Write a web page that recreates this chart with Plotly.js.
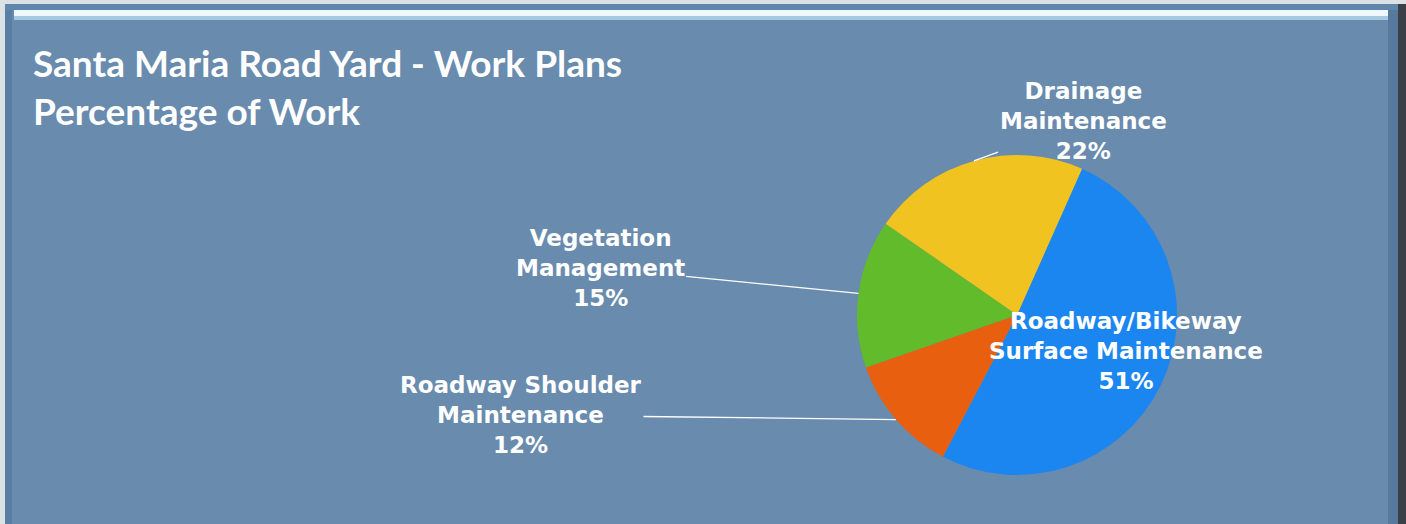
<!DOCTYPE html>
<html><head><meta charset="utf-8">
<script src="https://cdn.plot.ly/plotly-3.0.1.min.js"></script>
<style>html,body{margin:0;padding:0;background:#688BAE;overflow:hidden}#chart{width:1406px;height:524px}</style>
</head><body><div id="chart"></div>
<script>
// ---- data ----
const categories = ['Roadway/Bikeway<br>Surface Maintenance', 'Roadway Shoulder<br>Maintenance', 'Vegetation<br>Management', 'Drainage<br>Maintenance'];
const percentages = [51, 12, 15, 22];
const sliceColors = ['#1C86F0', '#E8600F', '#62BB2A', '#F0C321'];
const chartTitle = 'Santa Maria Road Yard - Work Plans<br>Percentage of Work';

// ---- layout constants ----
const W = 1406, H = 524;
const cx = 1017, cy = 315, R = 160;
const rotation = 24;
const labelPos = [[1126, 351], [521, 415], [600, 268], [1083, 121]];
const hasLeader = [false, true, true, true];

const total = percentages.reduce((a, b) => a + b, 0);
let acc = rotation;
const annotations = [];
percentages.forEach((v, i) => {
  const span = v / total * 360;
  const mid = (acc + span / 2) * Math.PI / 180;
  acc += span;
  const hx = cx + R * Math.sin(mid), hy = cy - R * Math.cos(mid);
  const text = categories[i] + '<br>' + Math.round(v / total * 100) + '%';
  const font = {family: '"DejaVu Sans", Arial, sans-serif', size: 23, color: '#FFFFFF', weight: 'bold'};
  if (hasLeader[i]) {
    annotations.push({
      xref: 'paper', yref: 'paper', x: hx / W, y: 1 - hy / H,
      ax: labelPos[i][0] - hx, ay: labelPos[i][1] - hy, axref: 'pixel', ayref: 'pixel',
      showarrow: true, arrowhead: 0, arrowwidth: 1.3, arrowcolor: '#FFFFFF', standoff: 0,
      text: text, font: font, align: 'center'
    });
  } else {
    annotations.push({
      xref: 'paper', yref: 'paper', x: labelPos[i][0] / W, y: 1 - labelPos[i][1] / H,
      xanchor: 'center', yanchor: 'middle', showarrow: false,
      text: text, font: font, align: 'center'
    });
  }
});

const px = (a) => a / W, py = (b) => 1 - b / H;
const rectPx = (x0, y0, x1, y1, color) => ({type: 'rect', xref: 'paper', yref: 'paper', x0: px(x0), x1: px(x1), y0: py(y1), y1: py(y0), fillcolor: color, line: {width: 0}, layer: 'below'});
const shapes = [
  rectPx(0, 0, W, 4, '#DCE1E6'),
  rectPx(0, 0, 5, H, '#DCE1E6'),
  rectPx(5, 4, W - 8, 10, '#5F86AC'),
  rectPx(14, 10, W - 16, 16, '#EEF8FD'),
  rectPx(14, 16, W - 16, 20, '#A6C8E0'),
  rectPx(5, 10, 12, H, '#5A7FA4'),
  rectPx(W - 18, 10, W - 8, H, '#56799D'),
  rectPx(W - 8, 4, W, H, '#3B4048')
];

const trace = {
  type: 'pie',
  labels: categories,
  values: percentages,
  marker: {colors: sliceColors, line: {width: 0}},
  sort: false,
  direction: 'clockwise',
  rotation: rotation,
  textinfo: 'none',
  hoverinfo: 'skip',
  showlegend: false,
  domain: {x: [px(cx - R), px(cx + R)], y: [py(cy + R), py(cy - R)]}
};

const layout = {
  width: W, height: H,
  margin: {l: 0, r: 0, t: 0, b: 0},
  paper_bgcolor: '#688BAE',
  plot_bgcolor: '#688BAE',
  showlegend: false,
  title: {
    text: chartTitle,
    x: 33 / W, xanchor: 'left', xref: 'paper',
    y: 1 - 77 / H, yanchor: 'top', yref: 'paper',
    font: {family: 'Lato, sans-serif', size: 37, color: '#FFFFFF', weight: 'bold'}
  },
  annotations: annotations,
  shapes: shapes
};

Plotly.newPlot('chart', [trace], layout, {staticPlot: true, displayModeBar: false});
</script>
</body></html>
